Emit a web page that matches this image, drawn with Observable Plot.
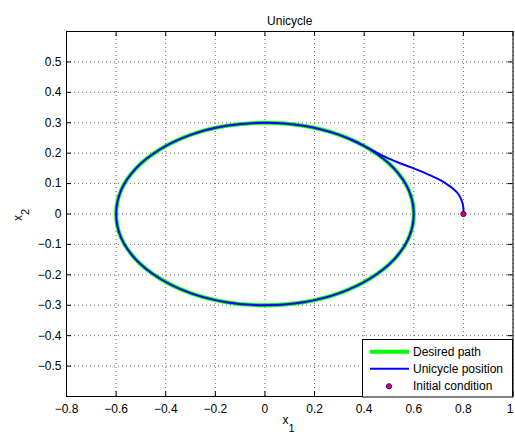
<!DOCTYPE html>
<html>
<head>
<meta charset="utf-8">
<script src="https://cdn.jsdelivr.net/npm/d3@7"></script>
<script src="https://cdn.jsdelivr.net/npm/@observablehq/plot@0.6"></script>
<style>
  html, body { margin: 0; padding: 0; background: #fff; }
  #chart { width: 515px; height: 434px; }
</style>
</head>
<body>
<div id="chart"></div>
<script>
// Desired elliptical path (semi-axes 0.6 and 0.3), sampled every 15 degrees
const pathX = [0.6, 0.58, 0.52, 0.424, 0.3, 0.155, 0, -0.155, -0.3, -0.424, -0.52, -0.58,
               -0.6, -0.58, -0.52, -0.424, -0.3, -0.155, 0, 0.155, 0.3, 0.424, 0.52, 0.58];
const pathY = [0, 0.078, 0.15, 0.212, 0.26, 0.29, 0.3, 0.29, 0.26, 0.212, 0.15, 0.078,
               0, -0.078, -0.15, -0.212, -0.26, -0.29, -0.3, -0.29, -0.26, -0.212, -0.15, -0.078];

// Unicycle trajectory: approach from the initial condition, then one lap on the path
const unicycleX = [0.8, 0.8, 0.794, 0.781, 0.76, 0.733, 0.707, 0.667, 0.627, 0.587, 0.547, 0.5,
                   0.45, 0.41, 0.36, 0.3, 0.155, 0, -0.155, -0.3, -0.424, -0.52, -0.58, -0.6,
                   -0.58, -0.52, -0.424, -0.3, -0.155, 0, 0.155, 0.3, 0.424, 0.52, 0.58, 0.6,
                   0.58, 0.52, 0.424, 0.3];
const unicycleY = [0, 0.02, 0.042, 0.064, 0.082, 0.098, 0.111, 0.127, 0.141, 0.154, 0.166, 0.182,
                   0.202, 0.219, 0.24, 0.26, 0.29, 0.3, 0.29, 0.26, 0.212, 0.15, 0.078, 0,
                   -0.078, -0.15, -0.212, -0.26, -0.29, -0.3, -0.29, -0.26, -0.212, -0.15, -0.078, 0,
                   0.078, 0.15, 0.212, 0.26];

const initialX = [0.8];
const initialY = [0];

const xTicks = [-0.8, -0.6, -0.4, -0.2, 0, 0.2, 0.4, 0.6, 0.8, 1];
const xTickLabels = ["−0.8", "−0.6", "−0.4", "−0.2", "0", "0.2", "0.4", "0.6", "0.8", "1"];
const yTicks = [-0.5, -0.4, -0.3, -0.2, -0.1, 0, 0.1, 0.2, 0.3, 0.4, 0.5];
const yTickLabels = ["−0.5", "−0.4", "−0.3", "−0.2", "−0.1", "0", "0.1", "0.2", "0.3", "0.4", "0.5"];

const titleText = "Unicycle";
const legendNames = ["Desired path", "Unicycle position", "Initial condition"];

const W = 515, H = 434;
const mL = 66, mR = 2.5, mT = 31, mB = 38;
const frameW = W - mL - mR, frameH = H - mT - mB;
const font = "'Liberation Sans', Arial, Helvetica, sans-serif";

const desired = pathX.map((x, i) => ({x, y: pathY[i]}));
const unicycle = unicycleX.map((x, i) => ({x, y: unicycleY[i]}));
const initial = initialX.map((x, i) => ({x, y: initialY[i]}));

const gridStyle = {stroke: "#6a6a6a", strokeOpacity: 1, strokeWidth: 1, strokeDasharray: "1,3"};

const chart = Plot.plot({
  width: W,
  height: H,
  marginLeft: mL,
  marginRight: mR,
  marginTop: mT,
  marginBottom: mB,
  style: {fontFamily: font, fontSize: "12px", background: "#fff", color: "#000", overflow: "visible"},
  x: {domain: [-0.8, 1]},
  y: {domain: [-0.6, 0.6]},
  marks: [
    Plot.gridX(xTicks, gridStyle),
    Plot.gridY(yTicks, gridStyle),
    Plot.line(desired, {x: "x", y: "y", curve: "catmull-rom-closed", stroke: "#00ff00", strokeWidth: 4}),
    Plot.line(unicycle, {x: "x", y: "y", curve: "catmull-rom", stroke: "#0000ff", strokeWidth: 2}),
    Plot.dot(initial, {x: "x", y: "y", r: 2.6, fill: "#ff0000", stroke: "#0000ff", strokeWidth: 1}),
    // inward tick marks on all four sides
    Plot.tickX(xTicks, {x: d => d, insetTop: frameH - 5, stroke: "#000"}),
    Plot.tickX(xTicks, {x: d => d, insetBottom: frameH - 5, stroke: "#000"}),
    Plot.tickY(yTicks, {y: d => d, insetRight: frameW - 5, stroke: "#000"}),
    Plot.tickY(yTicks, {y: d => d, insetLeft: frameW - 5, stroke: "#000"}),
    Plot.frame({stroke: "#000", strokeWidth: 1}),
    Plot.axisX(xTicks, {
      tickSize: 0, tickPadding: 8, label: null, fontSize: 12,
      tickFormat: d => xTickLabels[xTicks.indexOf(d)]
    }),
    Plot.axisY(yTicks, {
      tickSize: 0, tickPadding: 5, label: null, fontSize: 12,
      tickFormat: d => yTickLabels[yTicks.indexOf(d)]
    }),
    Plot.text([titleText], {frameAnchor: "top", dy: -15, fontSize: 12, fill: "#000"})
  ]
});

document.getElementById("chart").appendChild(chart);

const svg = d3.select(chart);

// keep the last x tick label inside the canvas edge
svg.selectAll("text").filter(function () { return this.textContent.trim() === "1"; })
  .attr("dx", -3);

// Axis labels with subscripts
const xl = svg.append("text")
  .attr("x", 282.5).attr("y", 423.5).attr("text-anchor", "start")
  .attr("font-family", font).attr("font-size", 12).attr("fill", "#000");
xl.append("tspan").text("x");
xl.append("tspan").attr("dy", 8).attr("font-size", 11).text("1");

const yl = svg.append("text")
  .attr("transform", "translate(21.5,221) rotate(-90)").attr("text-anchor", "start")
  .attr("font-family", font).attr("font-size", 12).attr("fill", "#000");
yl.append("tspan").text("x");
yl.append("tspan").attr("dy", 7.5).attr("font-size", 11).text("2");

// Legend box in the lower right corner
const lg = svg.append("g").attr("font-family", font).attr("font-size", 12).attr("text-anchor", "start");
lg.append("rect")
  .attr("x", 362.5).attr("y", 339.5).attr("width", 150).attr("height", 57.5)
  .attr("fill", "#fff").attr("stroke", "#000").attr("stroke-width", 1);
const rows = [355.7, 372.7, 390.3];
lg.append("line").attr("x1", 370).attr("x2", 409).attr("y1", rows[0] - 4).attr("y2", rows[0] - 4)
  .attr("stroke", "#00ff00").attr("stroke-width", 4);
lg.append("line").attr("x1", 370).attr("x2", 409).attr("y1", rows[1] - 4).attr("y2", rows[1] - 4)
  .attr("stroke", "#0000ff").attr("stroke-width", 2);
lg.append("circle").attr("cx", 389).attr("cy", rows[2] - 4).attr("r", 2.6)
  .attr("fill", "#ff0000").attr("stroke", "#0000ff").attr("stroke-width", 1);
legendNames.forEach((name, i) => {
  lg.append("text").attr("x", 413).attr("y", rows[i]).attr("text-anchor", "start")
    .attr("fill", "#000").text(name);
});
</script>
</body>
</html>
